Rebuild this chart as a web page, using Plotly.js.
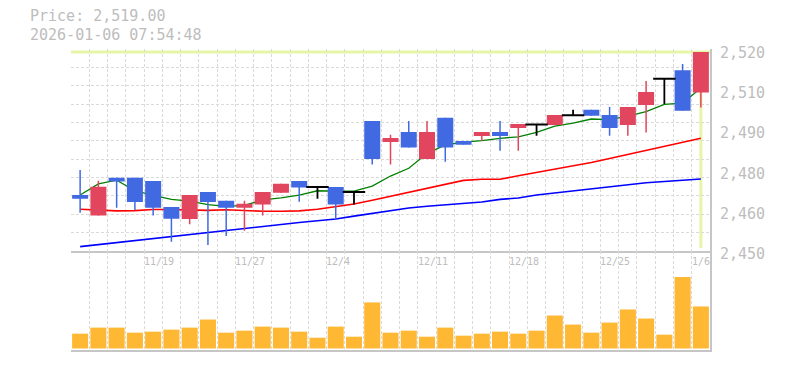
<!DOCTYPE html>
<html>
<head>
<meta charset="utf-8">
<script src="https://cdn.plot.ly/plotly-3.0.1.min.js"></script>
<style>html,body{margin:0;padding:0;background:#fff;}#chart{width:785px;height:370px;}</style>
</head>
<body>
<div id="chart"></div>
<script>
// ---- data ----
const dates = ["11/13","11/14","11/17","11/18","11/19","11/20","11/21","11/25","11/26","11/27",
  "11/28","12/1","12/2","12/3","12/4","12/5","12/8","12/9","12/10","12/11",
  "12/12","12/15","12/16","12/17","12/18","12/19","12/22","12/23","12/24","12/25",
  "12/26","12/29","12/30","1/5","1/6"];
const openP  = [2469.3,2462.2,2475.3,2475.3,2474.2,2465.2,2461.0,2470.4,2467.3,2464.9,
  2466.0,2470.1,2474.2,2472.1,2472.1,2470.4,2495.0,2487.7,2491.2,2481.8,
  2496.1,2488.1,2489.8,2491.2,2492.6,2493.8,2493.6,2497.0,2498.9,2497.1,
  2493.6,2500.6,2509.7,2512.6,2504.9];
const highP  = [2478.0,2474.3,2475.3,2475.3,2474.2,2465.2,2469.3,2470.4,2467.3,2467.3,
  2470.4,2473.2,2474.2,2472.1,2472.1,2470.4,2495.0,2490.2,2495.0,2495.0,
  2496.1,2488.1,2491.2,2495.0,2494.0,2493.8,2497.1,2498.9,2498.9,2499.9,
  2499.9,2508.9,2509.7,2514.8,2519.0];
const lowP   = [2463.2,2462.2,2464.9,2464.1,2462.2,2453.1,2459.2,2452.0,2455.1,2456.9,
  2462.2,2470.1,2467.0,2468.0,2460.9,2466.0,2479.9,2479.9,2485.8,2481.8,
  2480.9,2486.8,2488.1,2484.7,2484.7,2489.9,2493.6,2497.0,2496.8,2489.9,
  2489.9,2491.0,2500.9,2498.6,2499.7];
const closeP = [2468.0,2472.2,2474.0,2466.9,2464.9,2461.1,2469.3,2466.9,2464.9,2466.3,
  2470.4,2473.2,2471.9,2472.1,2466.0,2470.4,2481.8,2489.1,2485.8,2491.2,
  2485.8,2486.8,2491.2,2489.8,2494.0,2493.8,2497.1,2497.0,2496.8,2492.6,
  2499.9,2505.1,2509.7,2498.6,2519.0];
const ma5  = [2469.3,2473.2,2474.5,2470.8,2469.2,2467.8,2467.2,2466.0,2465.4,2465.7,
  2467.6,2468.3,2469.3,2470.8,2470.7,2470.7,2472.4,2475.9,2478.6,2483.7,
  2486.7,2487.7,2488.2,2489.0,2489.5,2491.1,2493.2,2494.3,2495.7,2495.5,
  2496.7,2498.3,2500.8,2501.2,2506.5];
const ma25 = [2464.4,2464.2,2463.8,2463.9,2464.3,2464.3,2464.2,2464.0,2464.2,2463.9,
  2463.7,2463.7,2463.8,2464.4,2465.2,2466.2,2467.5,2468.9,2470.2,2471.6,
  2473.1,2474.4,2474.8,2474.8,2476.0,2477.1,2478.2,2479.3,2480.6,2482.0,
  2483.4,2484.9,2486.3,2487.6,2489.0];
const ma75 = [2451.4,2452.1,2452.8,2453.6,2454.3,2455.0,2455.7,2456.4,2457.2,2457.9,
  2458.6,2459.3,2459.8,2460.4,2461.0,2462.0,2463.0,2464.0,2464.8,2465.4,
  2465.9,2466.4,2466.9,2467.8,2468.3,2469.3,2470.0,2470.8,2471.5,2472.3,
  2473.0,2473.6,2474.0,2474.5,2474.9];
const volume = [147,207,207,157,167,187,207,287,157,177,
  217,207,167,107,217,117,457,157,177,117,
  207,127,147,167,147,177,327,237,157,257,
  387,297,137,710,417];
const xTickIdx = [4,9,14,19,24,29,34];
const yTickVals = [2450,2464,2478,2492,2506,2520];
const yTickText = ["2,450","2,460","2,480","2,490","2,510","2,520"];
const stamp = "2026-01-06 07:54:48";

// ---- styling ----
const UP = "#e2455e", DOWN = "#4169e1", DOJI = "#000000";
const TXT = "#bdbdbd", GRID = "#dadada", AXIS = "#c6c6c6";
const MONO = "DejaVu Sans Mono, monospace";

const idx = dates.map((d, i) => i);

function segs(filter, a, b) {
  const xs = [], ys = [];
  idx.forEach(i => {
    if (filter(i)) { xs.push(i, i, null); ys.push(a[i], b[i], null); }
  });
  return {x: xs, y: ys};
}
const isUp = i => closeP[i] > openP[i];
const isDown = i => closeP[i] < openP[i];
const isDoji = i => closeP[i] === openP[i];

const traces = [];
// moving averages
traces.push({x: idx, y: ma75, type: "scatter", mode: "lines", line: {color: "#0000ff", width: 1.6}, hoverinfo: "skip"});
traces.push({x: idx, y: ma25, type: "scatter", mode: "lines", line: {color: "#ff0000", width: 1.6}, hoverinfo: "skip"});
traces.push({x: idx, y: ma5, type: "scatter", mode: "lines", line: {color: "#008000", width: 1.3}, hoverinfo: "skip"});
// wicks
[[isUp, UP], [isDown, DOWN], [isDoji, DOJI]].forEach(([f, c]) => {
  const s = segs(f, lowP, highP);
  traces.push({x: s.x, y: s.y, type: "scatter", mode: "lines", line: {color: c, width: (c === DOJI ? 1.8 : 1.5)}, hoverinfo: "skip"});
});
// bodies
[[isUp, UP], [isDown, DOWN]].forEach(([f, c]) => {
  const s = segs(f, openP, closeP);
  traces.push({x: s.x, y: s.y, type: "scatter", mode: "lines", line: {color: c, width: 16}, hoverinfo: "skip"});
});
// doji bars
const dj = idx.filter(isDoji);
traces.push({x: dj, y: dj.map(i => openP[i]), type: "scatter", mode: "markers",
  marker: {symbol: "line-ew", size: 16, line: {width: 2, color: DOJI}}, hoverinfo: "skip"});
// volume
traces.push({x: idx, y: volume, type: "bar", xaxis: "x2", yaxis: "y2", width: 0.88,
  marker: {color: "#ffb833", line: {width: 0}}, hoverinfo: "skip"});

const annotations = [];
annotations.push({xref: "paper", yref: "paper", x: -0.0657, y: (350 - 16) / 301, xanchor: "left", yanchor: "middle",
  text: "Price: " + closeP[closeP.length - 1].toLocaleString("en-US", {minimumFractionDigits: 2, maximumFractionDigits: 2}),
  showarrow: false, borderpad: 0, font: {family: MONO, size: 15, color: TXT}});
annotations.push({xref: "paper", yref: "paper", x: -0.0657, y: (350 - 34.5) / 301, xanchor: "left", yanchor: "middle",
  text: stamp, showarrow: false, borderpad: 0, font: {family: MONO, size: 15, color: TXT}});
yTickVals.forEach((v, k) => annotations.push({xref: "paper", yref: "y", x: 1.0125, y: v, yshift: -3.5,
  xanchor: "left", yanchor: "middle", text: yTickText[k], showarrow: false, font: {family: MONO, size: 15, color: TXT}}));
xTickIdx.forEach(i => annotations.push({xref: "x", yref: "paper", x: i - 0.62, y: 0.2924,
  xanchor: "left", yanchor: "middle", text: dates[i], showarrow: false, font: {family: MONO, size: 10, color: TXT}}));

const last = idx.length - 1;
const shapes = [
  {type: "line", xref: "x", yref: "y", x0: -0.5, x1: last + 0.5, y0: closeP[last], y1: closeP[last],
   line: {color: "#e6f5a6", width: 3}, layer: "below"},
  {type: "line", xref: "x", yref: "y", x0: last, x1: last, y0: 2450.8, y1: closeP[last],
   line: {color: "#e6f5a6", width: 3}, layer: "below"}
];

const xCommon = {range: [-0.5, last + 0.5], tickmode: "linear", tick0: -0.5, dtick: 1,
  showgrid: true, gridcolor: GRID, griddash: "3px,2px", gridwidth: 1,
  showticklabels: false, ticks: "", zeroline: false, showline: true, linecolor: AXIS, linewidth: 2, fixedrange: true};

const layout = {
  width: 785, height: 370,
  margin: {l: 71, r: 75, t: 49, b: 20, pad: 0},
  paper_bgcolor: "#ffffff", plot_bgcolor: "#ffffff",
  showlegend: false, hovermode: false,
  xaxis: Object.assign({}, xCommon, {anchor: "y", domain: [0, 1]}),
  xaxis2: Object.assign({}, xCommon, {anchor: "y2", domain: [0, 1], matches: "x"}),
  yaxis: {domain: [0.33, 1], range: [2450, 2520], side: "right", tickmode: "linear", tick0: 2450, dtick: 70 / 11,
    showgrid: true, gridcolor: GRID, griddash: "3px,2px", gridwidth: 1, showticklabels: false, ticks: "",
    zeroline: false, showline: true, linecolor: AXIS, linewidth: 2, anchor: "x", fixedrange: true},
  yaxis2: {domain: [0, 0.33], range: [-15, 970], side: "right", showgrid: false, showticklabels: false, ticks: "",
    zeroline: false, showline: true, linecolor: AXIS, linewidth: 2, anchor: "x2", fixedrange: true},
  annotations: annotations,
  shapes: shapes
};

Plotly.newPlot("chart", traces, layout, {displayModeBar: false, staticPlot: true});
</script>
</body>
</html>
